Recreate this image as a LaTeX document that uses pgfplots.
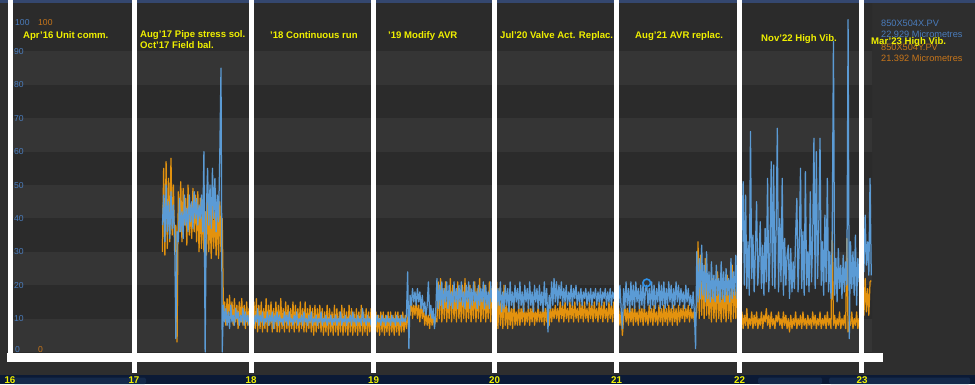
\documentclass[border=0pt]{standalone}
\usepackage{pgfplots}
\pgfplotsset{compat=1.18}
\usepackage{pgfplotstable}
\usepackage{fontspec}
\setmainfont{Liberation Sans}
\definecolor{bgc}{HTML}{2E2E2E}
\definecolor{bandL}{HTML}{353535}
\definecolor{bandD}{HTML}{2B2B2B}
\definecolor{topnavy}{HTML}{34476F}
\definecolor{botnavy}{HTML}{0B1A36}
\definecolor{botbox}{HTML}{14294A}
\definecolor{serB}{HTML}{5B9BD5}
\definecolor{serO}{HTML}{E3920E}
\definecolor{labB}{HTML}{4A7CBC}
\definecolor{labO}{HTML}{C8761A}
\definecolor{ann}{HTML}{F0F000}
\definecolor{mk}{HTML}{2E90E8}
\newcommand{\annf}{\fontsize{9.6}{11}\selectfont\bfseries}
\newcommand{\legf}{\fontsize{9.2}{11}\selectfont}
\newcommand{\tickf}{\fontsize{8.6}{10}\selectfont}
\pgfplotstableread{
yr b o
17.27 38 30
17.28 47 55
17.29 33 29
17.30 50 57
17.31 36 31
17.32 45 52
17.33 34 33
17.34 48 58
17.35 37 35
17.36 44 50
17.37 35 30
17.38 4 38
17.39 36 3
17.40 33 48
17.41 46 36
17.42 36 51
17.43 42 33
17.44 34 49
17.45 47 38
17.46 38 46
17.47 43 32
17.48 36 50
17.49 47 35
17.50 39 44
17.51 45 34
17.52 37 49
17.53 48 36
17.54 40 47
17.55 46 33
17.56 38 48
17.57 44 30
17.58 40 46
17.59 47 31
17.60 36 44
17.61 60 30
17.62 0 42
17.63 42 29
17.64 55 45
17.65 38 30
17.66 50 43
17.67 37 28
17.68 55 44
17.69 40 31
17.70 52 42
17.71 36 29
17.72 47 44
17.73 39 28
17.74 59 45
17.75 85 30
17.76 0 40
17.77 14 12
17.78 9 15
17.79 13 8
17.80 8 16
17.81 12 9
17.82 7 17
17.83 14 10
17.84 9 15
17.85 11 8
17.86 8 16
17.87 13 9
17.88 10 14
17.89 12 7
17.90 8 15
17.91 11 9
17.92 9 16
17.93 13 8
17.94 8 14
17.95 12 7
17.96 9 15
17.97 11 8
17.98 8 13
17.99 12 7
18.00 9 16
18.01 12 6
18.02 8 15
18.03 11 7
18.04 9 16
18.05 13 6
18.06 8 14
18.07 11 7
18.08 9 15
18.09 12 6
18.10 8 13
18.11 10 7
18.12 9 16
18.13 12 6
18.14 8 14
18.15 11 8
18.16 9 15
18.17 12 6
18.18 7 13
18.19 11 7
18.20 9 15
18.21 12 6
18.22 8 14
18.23 11 6
18.24 9 16
18.25 10 7
18.26 8 13
18.27 12 6
18.28 9 15
18.29 11 7
18.30 8 14
18.31 12 6
18.32 9 13
18.33 10 7
18.34 8 15
18.35 11 6
18.36 9 14
18.37 12 7
18.38 8 13
18.39 10 6
18.40 9 15
18.41 11 7
18.42 8 13
18.43 12 6
18.44 9 15
18.45 10 6
18.46 8 13
18.47 11 7
18.48 9 14
18.49 12 6
18.50 8 13
18.51 10 5
18.52 9 14
18.53 11 6
18.54 8 13
18.55 10 7
18.56 9 14
18.57 12 6
18.58 8 13
18.59 10 5
18.60 9 12
18.61 11 6
18.62 8 14
18.63 10 5
18.64 9 13
18.65 11 6
18.66 8 12
18.67 10 5
18.68 9 14
18.69 11 6
18.70 8 13
18.71 10 5
18.72 9 12
18.73 12 6
18.74 8 14
18.75 10 5
18.76 9 13
18.77 11 6
18.78 8 12
18.79 10 5
18.80 9 14
18.81 11 6
18.82 8 13
18.83 12 5
18.84 9 12
18.85 10 6
18.86 8 13
18.87 11 5
18.88 9 12
18.89 10 6
18.90 8 14
18.91 13 5
18.92 9 12
18.93 10 6
18.94 8 13
18.95 11 5
18.96 9 12
18.97 10 6
18.98 8 13
18.99 11 6
19.00 9 12
19.01 10 5
19.02 8 12
19.03 11 6
19.04 9 11
19.05 10 5
19.06 8 12
19.07 11 6
19.08 9 12
19.09 10 5
19.10 8 11
19.11 11 6
19.12 9 12
19.13 10 5
19.14 8 12
19.15 11 6
19.16 9 11
19.17 10 5
19.18 8 12
19.19 11 6
19.20 9 12
19.21 10 5
19.22 8 11
19.23 11 6
19.24 9 12
19.25 10 6
19.26 9 11
19.27 11 7
19.28 24 10
19.29 1 12
19.30 17 11
19.31 14 16
19.32 19 10
19.33 15 14
19.34 18 11
19.35 14 15
19.36 19 10
19.37 15 14
19.38 18 9
19.39 13 15
19.40 17 10
19.41 12 13
19.42 15 8
19.43 11 12
19.44 14 8
19.45 21 11
19.46 11 7
19.47 14 12
19.48 10 8
19.49 13 11
19.50 7 8
19.51 12 10
19.52 22 9
19.53 13 21
19.54 20 10
19.55 14 22
19.56 21 9
19.57 13 19
19.58 19 10
19.59 15 21
19.60 21 9
19.61 13 17
19.62 20 10
19.63 14 22
19.64 18 9
19.65 13 20
19.66 21 10
19.67 15 18
19.68 19 9
19.69 13 21
19.70 20 10
19.71 15 17
19.72 21 9
19.73 14 20
19.74 18 10
19.75 13 22
19.76 20 9
19.77 15 18
19.78 21 10
19.79 13 20
19.80 19 9
19.81 14 17
19.82 21 10
19.83 15 21
19.84 18 9
19.85 13 19
19.86 20 10
19.87 14 22
19.88 19 9
19.89 15 18
19.90 21 10
19.91 13 20
19.92 20 9
19.93 14 17
19.94 18 10
19.95 13 21
19.96 21 9
19.97 15 19
19.98 19 10
19.99 14 20
20.00 20 8
20.01 13 21
20.02 19 7
20.03 14 19
20.04 21 8
20.05 12 16
20.06 18 7
20.07 13 20
20.08 20 8
20.09 14 14
20.10 19 7
20.11 12 15
20.12 21 8
20.13 14 13
20.14 18 7
20.15 13 16
20.16 20 8
20.17 15 12
20.18 19 8
20.19 13 14
20.20 21 8
20.21 14 13
20.22 18 9
20.23 12 15
20.24 20 8
20.25 15 12
20.26 19 9
20.27 13 14
20.28 21 8
20.29 14 13
20.30 18 9
20.31 12 15
20.32 20 8
20.33 15 12
20.34 19 9
20.35 13 14
20.36 20 9
20.37 14 12
20.38 18 9
20.39 12 15
20.40 21 8
20.41 14 13
20.42 19 9
20.43 6 14
20.44 17 8
20.45 13 14
20.46 21 9
20.47 14 13
20.48 22 10
20.49 15 14
20.50 21 10
20.51 14 13
20.52 20 9
20.53 16 15
20.54 21 10
20.55 14 14
20.56 19 9
20.57 15 15
20.58 20 10
20.59 14 13
20.60 18 9
20.61 15 15
20.62 20 10
20.63 14 14
20.64 19 9
20.65 16 15
20.66 20 10
20.67 14 13
20.68 18 9
20.69 15 15
20.70 19 10
20.71 14 14
20.72 18 9
20.73 16 15
20.74 19 10
20.75 14 13
20.76 18 9
20.77 15 15
20.78 19 10
20.79 14 14
20.80 18 9
20.81 16 15
20.82 19 10
20.83 14 13
20.84 18 9
20.85 15 15
20.86 19 10
20.87 14 14
20.88 18 9
20.89 16 15
20.90 19 10
20.91 14 13
20.92 18 9
20.93 15 15
20.94 19 10
20.95 14 14
20.96 18 9
20.97 16 15
20.98 19 10
20.99 15 13
21.00 18 9
21.01 14 13
21.02 20 8
21.03 13 12
21.04 7 5
21.05 19 10
21.06 13 14
21.07 21 9
21.08 14 13
21.09 19 8
21.10 12 14
21.11 21 9
21.12 14 13
21.13 20 8
21.14 13 14
21.15 21 9
21.16 15 12
21.17 19 8
21.18 13 14
21.19 20 9
21.20 14 13
21.21 21 8
21.22 13 14
21.23 19 9
21.24 20 12
21.25 14 8
21.26 19 14
21.27 13 9
21.28 21 13
21.29 14 8
21.30 20 14
21.31 13 9
21.32 19 12
21.33 15 8
21.34 21 14
21.35 13 9
21.36 20 13
21.37 14 8
21.38 21 14
21.39 13 9
21.40 19 13
21.41 14 8
21.42 21 14
21.43 15 9
21.44 20 13
21.45 13 8
21.46 19 14
21.47 14 9
21.48 21 13
21.49 15 8
21.50 20 14
21.51 14 9
21.52 19 13
21.53 15 10
21.54 18 14
21.55 13 9
21.56 20 13
21.57 15 10
21.58 19 14
21.59 14 9
21.60 17 13
21.61 13 10
21.62 18 12
21.63 12 9
21.64 1 10
21.65 30 12
21.66 15 33
21.67 28 10
21.68 16 29
21.69 32 11
21.70 17 24
21.71 26 10
21.72 15 28
21.73 30 11
21.74 16 22
21.75 24 10
21.76 15 20
21.77 27 9
21.78 16 22
21.79 23 10
21.80 15 19
21.81 26 9
21.82 17 24
21.83 22 10
21.84 15 18
21.85 27 9
21.86 16 21
21.87 24 10
21.88 15 19
21.89 25 9
21.90 17 23
21.91 22 10
21.92 15 18
21.93 28 9
21.94 16 26
21.95 24 10
21.96 17 20
21.97 29 10
21.98 16 24
21.99 26 10
22.00 30 10
22.01 18 8
22.02 34 12
22.03 51 7
22.04 20 11
22.05 47 8
22.06 19 13
22.07 33 7
22.08 17 10
22.09 66 8
22.10 22 12
22.11 35 7
22.12 18 11
22.13 30 8
22.14 45 12
22.15 20 7
22.16 28 10
22.17 39 8
22.18 19 12
22.19 32 7
22.20 17 11
22.21 37 9
22.22 21 13
22.23 52 8
22.24 18 11
22.25 30 7
22.26 57 12
22.27 20 8
22.28 56 10
22.29 19 7
22.30 36 11
22.31 67 9
22.32 18 12
22.33 40 8
22.34 21 10
22.35 52 7
22.36 17 12
22.37 34 8
22.38 20 11
22.39 29 7
22.40 32 10
22.41 16 6
22.42 31 11
22.43 18 7
22.44 27 10
22.45 19 8
22.46 35 12
22.47 46 7
22.48 18 10
22.49 33 8
22.50 55 11
22.51 19 7
22.52 36 12
22.53 17 8
22.54 54 10
22.55 20 7
22.56 30 11
22.57 18 8
22.58 48 10
22.59 21 7
22.60 34 12
22.61 64 8
22.62 19 11
22.63 60 7
22.64 22 10
22.65 38 8
22.66 64 12
22.67 20 7
22.68 33 10
22.69 17 8
22.70 41 11
22.71 21 7
22.72 52 12
22.73 18 8
22.74 30 10
22.75 16 7
22.76 35 36
22.77 93 8
22.78 17 11
22.79 28 7
22.80 15 10
22.81 31 8
22.82 19 12
22.83 26 7
22.84 16 10
22.85 29 8
22.86 18 11
22.87 27 7
22.88 20 34
22.89 99.5 6
22.90 4 9
22.91 33 8
22.92 19 12
22.93 30 7
22.94 17 10
22.95 35 8
22.96 14 12
22.97 28 7
22.98 21 10
22.99 32 9
23.00 25 12
23.01 34 20
23.02 24 11
23.03 41 22
23.04 26 12
23.05 33 19
23.06 23 11
23.07 52 21
23.08 22.929 21.392
}\vib

\begin{document}
\begin{tikzpicture}[x=1pt,y=1pt]
\path[use as bounding box] (0,0) rectangle (975,384);
\fill[bgc] (0,0) rectangle (975,384);
\fill[topnavy] (0,381) rectangle (975,384);
\fill[botnavy] (0,0) rectangle (975,9);
\fill[botbox, rounded corners=1.5pt] (13,0) rectangle (146,6.5);
\fill[botbox, rounded corners=1.5pt] (758,0) rectangle (822,6.5);
\fill[botbox, rounded corners=1.5pt] (829,0) rectangle (970,6.5);
\begin{axis}[at={(10pt,31pt)}, anchor=south west, scale only axis,
  width=862pt, height=350pt,
  xmin=16.0205, xmax=23.0861, ymin=-0.3, ymax=104.5,
  hide axis, clip=true]
  \fill[bandD] (axis cs:15,-1) rectangle (axis cs:24,110);
  \fill[bandL] (axis cs:15,0) rectangle (axis cs:24,10);
  \fill[bandL] (axis cs:15,20) rectangle (axis cs:24,30);
  \fill[bandL] (axis cs:15,40) rectangle (axis cs:24,50);
  \fill[bandL] (axis cs:15,60) rectangle (axis cs:24,70);
  \fill[bandL] (axis cs:15,80) rectangle (axis cs:24,90);
  \addplot[serO, line width=1.25pt, line join=round] table[x=yr,y=o]{\vib};
  \addplot[serB, line width=1.25pt, line join=round] table[x=yr,y=b]{\vib};
  \addplot[mk, only marks, mark=o, mark size=3.8pt, line width=1.6pt] coordinates {(21.24,20.7)};
\end{axis}
% white frame lines
\fill[white] (7,22) rectangle (883,31);
\fill[white] (8,22) rectangle (12.5,384);
\foreach \c in {134,251,373.5,494.5,616.5,739.5,861.5}{
  \fill[white] (\c-2.5,11) rectangle (\c+2.5,384);
}
% year labels
\foreach \c/\t in {10/16,134/17,251/18,373.5/19,494.5/20,616.5/21,739.5/22,862/23}{
  \node[ann, font=\fontsize{9.8}{10}\selectfont\bfseries, inner sep=0pt, anchor=base] at (\c,0.8) {\t};
}
% y tick labels
\foreach \v in {10,20,...,90}{
  \node[labB, font=\tickf, inner sep=0pt, anchor=base west] at (14,{29+3.34*\v}) {\v};
}
\node[labB, font=\tickf, inner sep=0pt, anchor=base west] at (15,359) {100};
\node[labO, font=\tickf, inner sep=0pt, anchor=base west] at (38,359) {100};
\node[labB, font=\tickf, inner sep=0pt, anchor=base west] at (15,31.5) {0};
\node[labO, font=\tickf, inner sep=0pt, anchor=base west] at (38,31.5) {0};
% legend
\node[labB, font=\legf, inner sep=0pt, anchor=base west] at (881,358) {850X504X.PV};
\node[labB, font=\legf, inner sep=0pt, anchor=base west] at (881,347) {22.929 Micrometres};
\node[labO, font=\legf, inner sep=0pt, anchor=base west] at (881,334) {850X504Y.PV};
\node[labO, font=\legf, inner sep=0pt, anchor=base west] at (881,323) {21.392 Micrometres};
% annotations
\begin{scope}[every node/.style={ann, font=\annf, inner sep=0pt, anchor=base west}]
\node at (23,345) {Apr'16 Unit comm.};
\node at (140,346) {Aug'17 Pipe stress sol.};
\node at (140,335) {Oct'17 Field bal.};
\node at (270,345) {'18 Continuous run};
\node at (388,345) {'19 Modify AVR};
\node at (500,345) {Jul'20 Valve Act. Replac.};
\node at (635,345) {Aug'21 AVR replac.};
\node at (761,343) {Nov'22 High Vib.};
\node at (871,340) {Mar'23 High Vib.};
\end{scope}
\end{tikzpicture}
\end{document}
